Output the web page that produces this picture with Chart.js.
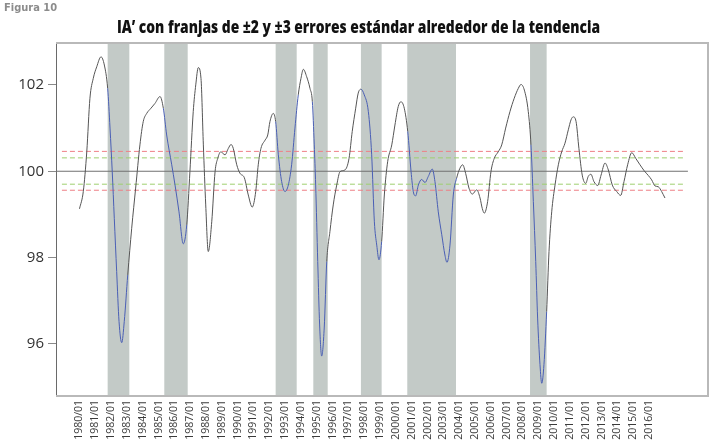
<!DOCTYPE html>
<html>
<head>
<meta charset="utf-8">
<script src="https://cdn.jsdelivr.net/npm/chart.js@4.4.1/dist/chart.umd.min.js"></script>
<style>
  html, body { margin: 0; padding: 0; background: #fff; }
  #wrap { position: relative; width: 709px; height: 445px; overflow: hidden; }
  #fig { position: absolute; left: 4px; top: 1px; font-family: "DejaVu Sans Condensed", "Open Sans", sans-serif; font-weight: bold; font-size: 11px; color: #8c8c8c; }
  #title { position: absolute; left: 0; top: 18px; width: 717px; text-align: center; white-space: nowrap;
           font-family: "Open Sans", sans-serif; font-weight: 800; font-size: 17px; line-height: 17px; color: #111;
           transform-origin: 50% 50%; }
  canvas { display: block; }
</style>
</head>
<body>
<div id="wrap">
  <canvas id="c" width="709" height="445"></canvas>
  <div id="fig">Figura 10</div>
  <div id="title">IA’ con franjas de ±2 y ±3 errores estándar alrededor de la tendencia</div>
</div>
<script>
// ---- tick labels ----
const xLabels = ['1980/01','1981/01','1982/01','1983/01','1984/01','1985/01','1986/01','1987/01','1988/01','1989/01',
  '1990/01','1991/01','1992/01','1993/01','1994/01','1995/01','1996/01','1997/01','1998/01','1999/01',
  '2000/01','2001/01','2002/01','2003/01','2004/01','2005/01','2006/01','2007/01','2008/01','2009/01',
  '2010/01','2011/01','2012/01','2013/01','2014/01','2015/01','2016/01'];
const yTicks = [96, 98, 100, 102];

// ---- series (decimal year, value) ----
const dates = [
  1980.00,1980.24,1980.46,1980.66,1980.87,1981.09,1981.36,1981.57,1981.78,1981.93,
  1982.07,1982.20,1982.35,1982.50,1982.67,1982.83,1983.05,1983.30,1983.55,1983.82,
  1984.03,1984.25,1984.52,1984.77,1985.09,1985.30,1985.51,1985.83,1986.04,1986.29,
  1986.56,1986.78,1986.98,1987.19,1987.35,1987.51,1987.68,1987.83,1987.98,1988.14,
  1988.36,1988.57,1988.74,1988.93,1989.20,1989.41,1989.58,1989.72,1989.94,1990.15,
  1990.42,1990.67,1990.92,1991.14,1991.30,1991.47,1991.73,1991.90,1992.04,1992.25,
  1992.40,1992.57,1992.78,1992.99,1993.20,1993.41,1993.62,1993.83,1994.00,1994.15,
  1994.36,1994.57,1994.72,1994.84,1994.93,1995.06,1995.18,1995.31,1995.47,1995.63,
  1995.83,1996.04,1996.26,1996.47,1996.78,1997.04,1997.24,1997.46,1997.62,1997.79,
  1998.00,1998.26,1998.47,1998.64,1998.79,1998.93,1999.10,1999.27,1999.48,1999.74,
  1999.94,2000.15,2000.32,2000.53,2000.75,2000.96,2001.10,2001.25,2001.42,2001.63,
  2001.84,2002.05,2002.30,2002.47,2002.68,2002.90,2003.10,2003.23,2003.42,2003.63,
  2003.84,2004.05,2004.22,2004.41,2004.62,2004.83,2005.11,2005.32,2005.46,2005.59,
  2005.80,2006.01,2006.22,2006.47,2006.69,2006.94,2007.21,2007.48,2007.74,2007.91,
  2008.12,2008.37,2008.54,2008.69,2008.84,2008.96,2009.11,2009.22,2009.36,2009.53,
  2009.68,2009.85,2010.06,2010.27,2010.48,2010.69,2010.90,2011.07,2011.21,2011.39,
  2011.57,2011.78,2012.00,2012.16,2012.33,2012.52,2012.76,2012.97,2013.22,2013.43,
  2013.68,2013.96,2014.21,2014.42,2014.65,2014.91,2015.16,2015.43,2015.70,2015.96,
  2016.17,2016.38,2016.59,2016.80,2017.01
];
const values = [
  99.13,99.53,100.45,101.69,102.15,102.42,102.65,102.46,101.92,101.00,
  99.99,98.91,97.68,96.52,96.03,96.52,97.60,98.68,99.61,100.61,
  101.15,101.34,101.46,101.57,101.73,101.46,100.84,100.15,99.68,99.06,
  98.32,98.76,99.99,101.38,102.00,102.40,102.15,100.61,99.22,98.14,
  98.83,99.99,100.30,100.45,100.38,100.53,100.62,100.53,100.15,99.95,
  99.85,99.45,99.17,99.53,100.15,100.53,100.72,100.84,101.15,101.34,
  101.15,100.38,99.76,99.53,99.68,100.15,101.00,101.77,102.15,102.36,
  102.19,101.92,101.61,100.61,99.68,97.91,96.44,95.72,96.37,97.91,
  98.60,99.22,99.68,99.99,100.03,100.30,100.92,101.46,101.81,101.90,
  101.77,101.38,100.38,98.83,98.29,97.95,98.37,99.45,100.22,100.61,
  101.07,101.50,101.61,101.46,100.92,99.99,99.53,99.43,99.68,99.81,
  99.74,99.88,100.05,99.76,99.06,98.53,98.06,97.89,98.29,99.45,
  99.84,100.07,100.15,99.95,99.61,99.47,99.57,99.38,99.14,99.03,
  99.30,99.99,100.30,100.45,100.61,101.00,101.38,101.69,101.92,102.01,
  101.88,101.38,100.61,99.30,97.91,96.60,95.52,95.09,95.52,96.75,
  98.14,99.06,99.68,100.15,100.45,100.65,100.96,101.19,101.26,101.15,
  100.53,99.91,99.72,99.88,99.93,99.76,99.67,99.91,100.19,100.03,
  99.68,99.53,99.44,99.76,100.15,100.43,100.30,100.15,100.01,99.90,
  99.80,99.66,99.64,99.53,99.38
];

// ---- shaded periods (decimal years) ----
const recessions = [
  [1981.78, 1983.15], [1985.36, 1986.84], [1992.40, 1993.73], [1994.78, 1995.69],
  [1997.79, 1999.10], [2000.72, 2003.80], [2008.48, 2009.53]
];

// ---- trend and bands ----
const trend = 100;
const band2 = [99.70, 100.31];
const band3 = [99.56, 100.46];
const dashSpan = [1978.89, 2018.33];
const trendSpan = [1978.515, 2018.46];

const X_MIN = 1978.515, X_MAX = 2019.73;
const Y_MIN = 94.795, Y_MAX = 102.97;

const FONT = '"Open Sans", "Noto Sans", sans-serif';

// fit the title's width to the reference (condensed face not installed)
(function () {
  const el = document.getElementById('title');
  const m = document.createElement('canvas').getContext('2d');
  m.font = '800 17px "Open Sans"';
  const w = m.measureText(el.textContent).width;
  el.style.transform = 'scaleX(' + (483 / w).toFixed(4) + ')';
})();

const inBand = x => recessions.some(r => x >= r[0] && x <= r[1]);
const series = dates.map((d, i) => ({ x: d, y: values[i] }));
const hline = (span, v) => [{ x: span[0], y: v }, { x: span[1], y: v }];

const bandsPlugin = {
  id: 'bands',
  beforeDatasetsDraw(chart) {
    const { ctx, chartArea, scales } = chart;
    ctx.save();
    ctx.fillStyle = '#c3cac7';
    recessions.forEach(r => {
      const x0 = scales.x.getPixelForValue(r[0]);
      const x1 = scales.x.getPixelForValue(r[1]);
      ctx.fillRect(x0, chartArea.top, x1 - x0, chartArea.bottom - chartArea.top);
    });
    ctx.strokeStyle = '#b9b9b9';
    ctx.lineWidth = 2;
    ctx.beginPath();
    ctx.moveTo(chartArea.left, chartArea.top);
    ctx.lineTo(chartArea.right, chartArea.top);
    ctx.lineTo(chartArea.right, chartArea.bottom);
    ctx.lineTo(chartArea.left, chartArea.bottom);
    ctx.stroke();
    ctx.restore();
  }
};

new Chart(document.getElementById('c'), {
  type: 'line',
  data: {
    datasets: [
      {
        data: series, borderColor: '#555', borderWidth: 1, pointRadius: 0,
        cubicInterpolationMode: 'monotone',
        segment: { borderColor: c => inBand((c.p0.parsed.x + c.p1.parsed.x) / 2) ? '#4a5fb5' : '#555' },
        order: 0
      },
      { data: hline(trendSpan, trend), borderColor: '#707070', borderWidth: 1.2, pointRadius: 0, order: 1 },
      { data: hline(dashSpan, band2[0]), borderColor: '#9fcf6e', borderWidth: 1, borderDash: [5, 3], pointRadius: 0, order: 2 },
      { data: hline(dashSpan, band2[1]), borderColor: '#9fcf6e', borderWidth: 1, borderDash: [5, 3], pointRadius: 0, order: 2 },
      { data: hline(dashSpan, band3[0]), borderColor: '#ee7f86', borderWidth: 1, borderDash: [5, 3], pointRadius: 0, order: 2 },
      { data: hline(dashSpan, band3[1]), borderColor: '#ee7f86', borderWidth: 1, borderDash: [5, 3], pointRadius: 0, order: 2 }
    ]
  },
  options: {
    responsive: false, animation: false, devicePixelRatio: 1,
    layout: { padding: { left: 0, right: 1, top: 43, bottom: 0 } },
    plugins: {
      legend: { display: false }, tooltip: { enabled: false }, title: { display: false }
    },
    scales: {
      x: {
        type: 'linear', min: X_MIN, max: X_MAX,
        grid: { display: false, drawTicks: false }, border: { display: false },
        afterBuildTicks: s => { s.ticks = xLabels.map(l => ({ value: parseInt(l, 10) })); },
        ticks: {
          autoSkip: false, maxRotation: 90, minRotation: 90, padding: 4,
          callback: (v, i) => xLabels[i],
          font: { family: FONT, size: 10.5 }, color: '#3a3a3a'
        },
        afterFit: s => { s.height = 49; }
      },
      y: {
        min: Y_MIN, max: Y_MAX,
        afterBuildTicks: s => { s.ticks = yTicks.map(v => ({ value: v })); },
        grid: { drawOnChartArea: false, tickLength: 8, color: '#8a8a8a' },
        border: { color: '#6a6a6a', width: 1 },
        ticks: { font: { family: FONT, size: 15 }, color: '#333', padding: 4 },
        afterFit: s => { s.width = 56; }
      }
    }
  },
  plugins: [bandsPlugin]
});
</script>
</body>
</html>
